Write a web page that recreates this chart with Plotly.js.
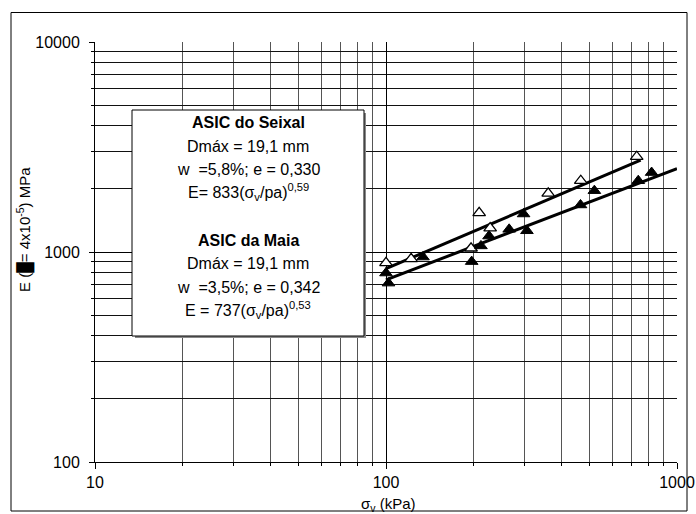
<!DOCTYPE html>
<html>
<head>
<meta charset="utf-8">
<script src="https://cdn.plot.ly/plotly-3.0.1.min.js"></script>
<style>html,body{margin:0;padding:0;background:#fff;}#chart{width:696px;height:514px;}</style>
</head>
<body>
<div id="chart"></div>
<script>
// Measured points, ASIC do Seixal (open triangles)
const sigmaSeixal = [100, 122, 196, 209, 228, 361, 467, 727];
const eSeixal     = [887, 927, 1042, 1535, 1300, 1903, 2185, 2843];
// Measured points, ASIC da Maia (filled triangles)
const sigmaMaia = [100, 102, 134, 197, 212, 226, 265, 297, 305, 466, 520, 736, 818];
const eMaia     = [794, 711, 946, 900, 1069, 1191, 1282, 1517, 1262, 1675, 1959, 2185, 2389];
// Fitted lines (end points)
const fitSeixalX = [100, 750];
const fitSeixalY = [833, 2735];
const fitMaiaX = [100, 1000];
const fitMaiaY = [737, 2497];
// Tick labels
const xTickVals = [10, 100, 1000];
const xTickText = ['10', '100', '1000'];
const yTickVals = [100, 1000, 10000];
const yTickText = ['100', '1000', '10000'];
const minorVals = [20,30,40,50,60,70,80,90,200,300,400,500,600,700,800,900,2000,3000,4000,5000,6000,7000,8000,9000];
// Text box lines
const boxLines = [
  {t: '<b>ASIC do Seixal</b>', y: 122},
  {t: 'Dmáx = 19,1 mm', y: 146},
  {t: 'w &nbsp;=5,8%; e = 0,330', y: 169},
  {t: 'E= 833(σ<sub>v</sub>/pa)<sup>0,59</sup>', y: 192},
  {t: '<b>ASIC da Maia</b>', y: 240},
  {t: 'Dmáx = 19,1 mm', y: 263},
  {t: 'w &nbsp;=3,5%; e = 0,342', y: 287},
  {t: 'E = 737(σ<sub>v</sub>/pa)<sup>0,53</sup>', y: 310}
];

const FONT = 'Liberation Sans, Arial, sans-serif';
const L = 95, R = 677, T = 42, B = 462;
const px2x = p => (p - L) / (R - L);
const px2y = p => (B - p) / (B - T);

const traces = [
  {x: fitSeixalX, y: fitSeixalY, mode: 'lines', line: {color: '#000', width: 3}, hoverinfo: 'skip'},
  {x: fitMaiaX, y: fitMaiaY, mode: 'lines', line: {color: '#000', width: 3}, hoverinfo: 'skip'},
  {x: sigmaSeixal, y: eSeixal, mode: 'markers',
   marker: {symbol: 'triangle-up', size: 11, color: '#fff', line: {color: '#000', width: 1.3}}},
  {x: sigmaMaia, y: eMaia, mode: 'markers',
   marker: {symbol: 'triangle-up', size: 11, color: '#000', line: {color: '#000', width: 1}}}
];

const annotations = boxLines.map(b => ({
  xref: 'paper', yref: 'paper', x: px2x(248), y: px2y(b.y),
  xanchor: 'center', yanchor: 'middle', showarrow: false,
  text: b.t, font: {family: FONT, size: 16, color: '#000'}
}));
annotations.push({
  xref: 'paper', yref: 'paper', x: px2x(25), y: px2y(230),
  xanchor: 'center', yanchor: 'middle', showarrow: false, textangle: -90,
  text: 'E (█= 4x10<sup>-5</sup>) MPa', font: {family: FONT, size: 15, color: '#000'}
});
annotations.push({
  xref: 'paper', yref: 'paper', x: px2x(388), y: px2y(504),
  xanchor: 'center', yanchor: 'middle', showarrow: false,
  text: 'σ<sub>v</sub> (kPa)', font: {family: FONT, size: 15, color: '#000'}
});

const layout = {
  width: 696, height: 514,
  margin: {l: L, r: 696 - R, t: T, b: 514 - B, pad: 0},
  paper_bgcolor: '#fff', plot_bgcolor: '#fff',
  showlegend: false,
  font: {family: FONT, size: 16, color: '#000'},
  xaxis: {
    type: 'log', range: [1, 3], tickmode: 'array', tickvals: xTickVals, ticktext: xTickText,
    ticks: 'outside', ticklen: 6, tickcolor: '#000', tickwidth: 1,
    showgrid: true, gridcolor: '#000', gridwidth: 1,
    showline: true, linecolor: '#000', linewidth: 1, mirror: false,
    zeroline: false, tickfont: {family: FONT, size: 16, color: '#000'},
    minor: {tickmode: 'array', tickvals: minorVals, ticks: 'outside', ticklen: 3, tickcolor: '#000',
            showgrid: true, gridcolor: '#555', gridwidth: 1}
  },
  yaxis: {
    type: 'log', range: [2, 4], tickmode: 'array', tickvals: yTickVals, ticktext: yTickText,
    ticks: 'outside', ticklen: 5, tickcolor: '#000', tickwidth: 1,
    showgrid: true, gridcolor: '#000', gridwidth: 1,
    showline: true, linecolor: '#000', linewidth: 1, mirror: false,
    zeroline: false, tickfont: {family: FONT, size: 16, color: '#000'},
    ticklabelstandoff: 6,
    minor: {tickmode: 'array', tickvals: minorVals, ticks: 'outside', ticklen: 3, tickcolor: '#000',
            showgrid: true, gridcolor: '#111', gridwidth: 1}
  },
  shapes: [
    {type: 'rect', xref: 'paper', yref: 'paper', layer: 'above',
     x0: px2x(135), x1: px2x(366), y0: px2y(338), y1: px2y(113),
     fillcolor: '#888', line: {width: 0}},
    {type: 'rect', xref: 'paper', yref: 'paper', layer: 'above',
     x0: px2x(132), x1: px2x(364), y0: px2y(336), y1: px2y(110),
     fillcolor: '#fff', line: {color: '#000', width: 1}},
    {type: 'rect', xref: 'paper', yref: 'paper', layer: 'above',
     x0: px2x(11), x1: px2x(687), y0: px2y(511), y1: px2y(12.5),
     fillcolor: 'rgba(0,0,0,0)', line: {color: '#000', width: 1}}
  ],
  annotations: annotations
};

Plotly.newPlot('chart', traces, layout, {displayModeBar: false, staticPlot: true});
</script>
</body>
</html>
